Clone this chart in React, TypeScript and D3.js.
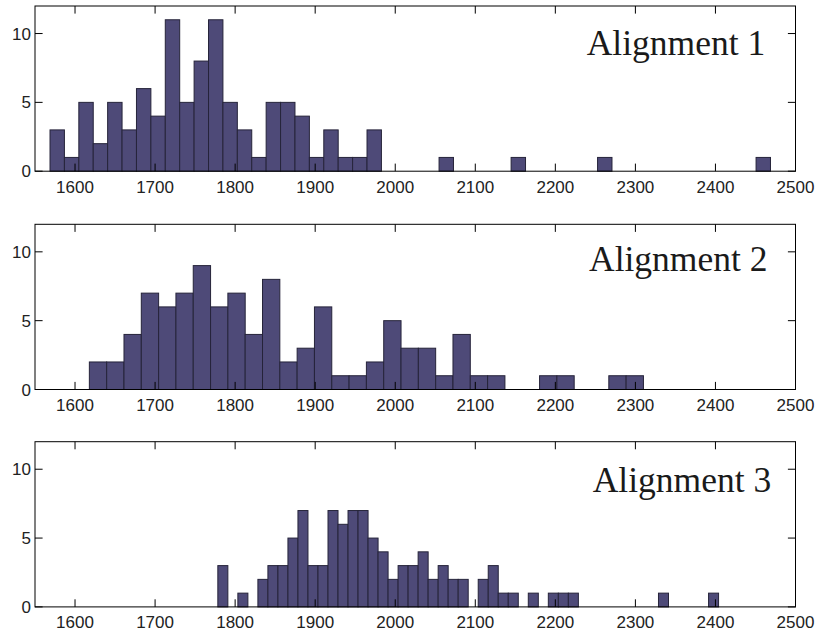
import React from "react";
import * as d3 from "d3";

// ---- data ----
const titles = ["Alignment 1", "Alignment 2", "Alignment 3"];
const xTicks = [1600, 1700, 1800, 1900, 2000, 2100, 2200, 2300, 2400, 2500];
const yTicks = [0, 5, 10];

const binStart1 = 1568.75;
const binWidth1 = 18;
const counts1 = [
  3, 1, 5, 2, 5, 3, 6, 4, 11, 5, 8, 11, 5, 3, 1, 5, 5, 4, 1, 3, 1, 1, 3,
  0, 0, 0, 0, 1, 0, 0, 0, 0, 1, 0, 0, 0, 0, 0, 1, 0, 0, 0, 0, 0, 0, 0, 0, 0, 0, 1,
];

const binStart2 = 1617.9;
const binWidth2 = 21.63;
const counts2 = [
  2, 2, 4, 7, 6, 7, 9, 6, 7, 4, 8, 2, 3, 6, 1, 1, 2, 5, 3, 3, 1, 4, 1, 1,
  0, 0, 1, 1, 0, 0, 1, 1,
];

const binStart3 = 1778.4;
const binWidth3 = 12.51;
const counts3 = [
  3, 0, 1, 0, 2, 3, 3, 5, 7, 3, 3, 7, 6, 7, 7, 5, 4, 2, 3, 3, 4, 2, 3, 2, 2,
  0, 2, 3, 1, 1, 0, 1, 0, 1, 1, 1, 0, 0, 0, 0, 0, 0, 0, 0, 1, 0, 0, 0, 0, 1,
];

const xDomain = [1550, 2500];
const yDomain = [0, 12];

// ---- layout ----
const W = 818;
const H = 634;
const left = 35;
const right = 795.5;
const panelTops = [6, 224.3, 441.7];
const panelH = 165.2;
const titleX = [586.7, 589, 592.7];
const titleDy = [49, 46.7, 50.6];
const tickLen = 7.6;
const fill = "#4E4A78";
const edge = "#26243a";
const sans = "'Liberation Sans', Arial, Helvetica, sans-serif";
const serif = "'Liberation Serif', 'Times New Roman', Times, serif";

const panels = [
  { start: binStart1, width: binWidth1, counts: counts1 },
  { start: binStart2, width: binWidth2, counts: counts2 },
  { start: binStart3, width: binWidth3, counts: counts3 },
];

const x = d3.scaleLinear().domain(xDomain).range([left, right]);

function Panel({ idx }: { idx: number }) {
  const top = panelTops[idx];
  const bottom = top + panelH;
  const y = d3.scaleLinear().domain(yDomain).range([bottom, top]);
  const p = panels[idx];
  return (
    <g>
      {p.counts.map((c, i) => {
        if (c === 0) return null;
        const x0 = x(p.start + i * p.width);
        const x1 = x(p.start + (i + 1) * p.width);
        return (
          <rect
            key={i}
            x={x0}
            y={y(c)}
            width={x1 - x0}
            height={y(0) - y(c)}
            fill={fill}
            stroke={edge}
            strokeWidth={1}
          />
        );
      })}
      <rect
        x={left}
        y={top}
        width={right - left}
        height={panelH}
        fill="none"
        stroke="#000"
        strokeWidth={1}
      />
      {xTicks.map((t) => (
        <g key={"x" + t}>
          <line x1={x(t)} x2={x(t)} y1={bottom} y2={bottom - tickLen} stroke="#000" strokeWidth={1} />
          <line x1={x(t)} x2={x(t)} y1={top} y2={top + tickLen} stroke="#000" strokeWidth={1} />
          <text
            x={x(t)}
            y={bottom + 21.5}
            textAnchor="middle"
            fontFamily={sans}
            fontSize={17}
            fill="#222"
          >
            {t}
          </text>
        </g>
      ))}
      {yTicks.map((t) => (
        <g key={"y" + t}>
          <line x1={left} x2={left + tickLen} y1={y(t)} y2={y(t)} stroke="#000" strokeWidth={1} />
          <line x1={right} x2={right - tickLen} y1={y(t)} y2={y(t)} stroke="#000" strokeWidth={1} />
          <text
            x={31}
            y={y(t)}
            dy="0.36em"
            textAnchor="end"
            fontFamily={sans}
            fontSize={17}
            fill="#222"
          >
            {t}
          </text>
        </g>
      ))}
      <text
        x={titleX[idx]}
        y={top + titleDy[idx]}
        fontFamily={serif}
        fontSize={35.5}
        fill="#1a1a1a"
      >
        {titles[idx]}
      </text>
    </g>
  );
}

export default function App() {
  return (
    <div style={{ position: "absolute", left: 0, top: 0, width: W, height: H, background: "#fff" }}>
      <svg width={W} height={H} viewBox={`0 0 ${W} ${H}`}>
        <rect x={0} y={0} width={W} height={H} fill="#fff" />
        {[0, 1, 2].map((i) => (
          <Panel key={i} idx={i} />
        ))}
      </svg>
    </div>
  );
}
